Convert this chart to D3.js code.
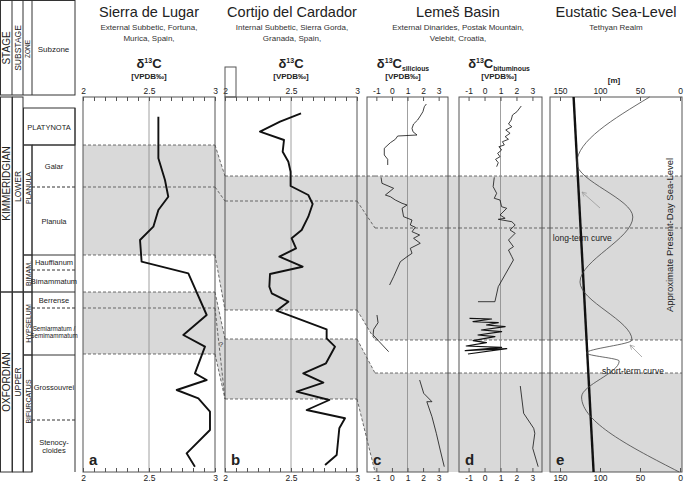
<!DOCTYPE html>
<html>
<head>
<meta charset="utf-8">
<script src="https://cdn.jsdelivr.net/npm/d3@7"></script>
<style>
  body { margin: 0; background: #fff; }
  svg { font-family: "Liberation Sans", Arial, sans-serif; }
</style>
</head>
<body>
<script>
// ---------- data (vertical values = relative stratigraphic position, 0 = top, 375 = base) ----------
var levelDomain = [0, 375];

var stages = [
  { name: "KIMMERIDGIAN", from: 0, to: 195 },
  { name: "OXFORDIAN", from: 195, to: 375 }
];
var substages = [
  { name: "LOWER", from: 0, to: 195 },
  { name: "UPPER", from: 195, to: 375 }
];
var zones = [
  { name: "PLATYNOTA", from: 11, to: 48, span: true },
  { name: "PLANULA", from: 48, to: 158 },
  { name: "BIMAM.", from: 158, to: 195 },
  { name: "HYPSELUM", from: 195, to: 258 },
  { name: "BIFURCATUS", from: 258, to: 375 }
];
var subzones = [
  { name: "Galar", from: 48, to: 90, zone: "PLANULA" },
  { name: "Planula", from: 90, to: 158, zone: "PLANULA" },
  { name: "Hauffianum", from: 158, to: 173, zone: "BIMAM." },
  { name: "Bimammatum", from: 173, to: 195, zone: "BIMAM." },
  { name: "Berrense", from: 195, to: 211, zone: "HYPSELUM" },
  { name: "Semiarmatum /|Semimammatum", from: 211, to: 258, zone: "HYPSELUM", small: true },
  { name: "Grossouvrei", from: 258, to: 323, zone: "BIFURCATUS" },
  { name: "Stenocy-|cloides", from: 323, to: 375, zone: "BIFURCATUS" }
];

// grey intervals and dashed correlation levels per section
var bandsA = [[48, 158], [195, 257]];
var dashesA = [48, 90, 158, 195, 211, 257];
var bandsB = [[79, 213], [242, 302]];
var dashesB = [79, 104, 213, 242, 302];
var bandsCDE = [[79, 243], [276, 375]];
var dashesCDE = [79, 131, 243, 276];

// correlation between neighbouring sections: [left level, right level]
var linkABFill = [[[48, 79], [158, 213]], [[195, 242], [257, 302]]];
var linkABLines = [[48, 79], [90, 104], [158, 213], [195, 242], [257, 302], [211, 302]];
var linkBCFill = [[[79, 79], [213, 243]], [[242, 276], [302, 375]]];
var linkBCLines = [[79, 79], [104, 131], [213, 243], [242, 276], [302, 375]];
var linkFlatFill = [[[79, 79], [243, 243]], [[276, 276], [375, 375]]];
var linkFlatLines = [[79, 79], [131, 131], [243, 243], [276, 276]];

// d13C Sierra de Lugar: [level, value]
var carbonA = [
  [19.7, 2.571], [61.3, 2.571], [83, 2.621], [99.7, 2.646], [113, 2.571], [129.7, 2.533],
  [143, 2.432], [164.7, 2.444], [176.3, 2.798], [218, 2.937], [238, 2.760], [249.7, 2.924],
  [276.3, 2.848], [283, 2.937], [293, 2.710], [301.3, 2.874], [314.7, 2.962], [333, 2.962],
  [356.3, 2.785], [369.7, 2.848]
];
// d13C Cortijo del Cardador
var carbonB = [
  [16.3, 2.576], [24.7, 2.417], [34.7, 2.265], [43, 2.447], [54.7, 2.437], [64.7, 2.480],
  [74.7, 2.497], [89, 2.497], [98, 2.631], [107, 2.664], [119.7, 2.631], [133, 2.581],
  [141.3, 2.505], [151.3, 2.538], [159.7, 2.412], [169.7, 2.588], [177, 2.341], [189.7, 2.336],
  [196.3, 2.354], [204.7, 2.480], [213.7, 2.391], [232.3, 2.770], [241.3, 2.770], [249.7, 2.833],
  [266.3, 2.765], [276.3, 2.593], [285.7, 2.745], [294.7, 2.543], [303, 2.790], [313, 2.619],
  [321.3, 2.909], [331.3, 2.866], [358, 2.846], [368, 2.758]
];
// d13C silicious, Lemes Basin (segments)
var carbonC = [
  [[7, 2.21], [9.7, 2.08], [14.7, 1.99], [19, 1.82], [23, 1.65], [27, 1.39], [31.3, 1.29],
   [34.7, 1.35], [38, 1.61], [39, 0.37], [42.3, 0.22], [45.7, -0.10], [51.3, -0.49], [58, -0.49],
   [62.3, -0.27], [68, -0.27]],
  [[80.3, -0.70], [86.3, -0.64], [91.3, 0.11], [98, -0.42], [99.7, -0.10], [103, 0.22],
   [106.3, 0.65], [108, 0.97], [111.3, 0.65], [119.7, 0.75], [123, 1.29], [128, 1.18],
   [130.3, 1.50], [134.7, 1.29], [138, 1.78], [141.3, 1.39], [146.3, 1.82], [151.3, 1.18],
   [156.3, 1.29], [159.7, 0.97], [164.7, 0.54], [179.7, 0.11], [188, -0.15]],
  [[218, -0.96], [225.7, -0.89], [232.3, -1.17], [238, -1.21], [254.7, -0.21]],
  [[283, 1.78], [296.3, 2.04], [304.7, 2.57], [304.7, 2.24], [319.7, 2.57], [336.3, 2.85],
   [353, 3.10], [369.7, 3.36]]
];
// d13C bituminous, Lemes Basin (segments)
var carbonD = [
  [[9, 2.30], [14.7, 2.03], [18, 1.75], [23, 1.67], [27, 1.50], [29.7, 1.71], [33, 1.33],
   [36.3, 1.60], [39.7, 1.29], [42.3, 1.50], [44.7, 1.12], [48, 1.24], [49.7, 0.90], [53, 1.07],
   [56.3, 0.82], [59.7, 0.97], [62.3, 0.69], [65.7, 0.86], [69.7, 0.76]],
  [[80.3, 0.61], [89.7, 0.54], [96.3, 0.76], [101.3, 0.61], [103, 0.97], [109.7, 1.07],
   [111.3, 1.39], [118, 0.97], [121.3, 1.29], [122.3, 0.86], [124.7, 1.71], [128, 1.92],
   [133, 1.60], [136.3, 1.92], [143, 1.50], [149.7, 1.81], [153, 1.50], [159.7, 1.71],
   [163, 1.81], [189.7, 0.86], [204.7, 0.65], [204.7, -0.41]],
  [[221.3, -0.94], [222, 0.44], [224.7, -0.72], [225.7, 0.86], [228, 0.12], [229.7, 1.29],
   [233, -0.20], [234.7, 1.07], [238, -0.41], [239.7, 0.65], [243.7, -0.72], [245.7, 0.12],
   [249, -1.15], [250.3, 1.07], [253.7, -1.21], [251.7, 1.39], [257, -1.04]],
  [[289, 2.24], [316.3, 2.45], [331.3, 3.08], [336.3, 3.15], [351.3, 3.02], [369.7, 3.36]]
];
// eustatic sea level [level, metres]
var seaShort = [[0, 38], [66, 129], [120, 59], [185, 125], [243, 60], [256, 117], [264, 76], [300, 123], [375, 1]];
var seaLong = [[0, 133], [375, 108]];

// axis ticks and labels
var ticksAB = d3.range(13).map(function (i) { return 2 + i / 12; });
var labelsAB = [2, 2.5, 3];
var ticksCD = [-1, 0, 1, 2, 3];
var labelsCD = [-1, 0, 1, 2, 3];
var ticksE = [150, 100, 50, 0];
var labelsE = [150, 100, 50, 0];

// ---------- layout ----------
var W = 685, H = 485;
var yTop = 97, yBottom = 472;
var cols = [0, 12, 23, 32, 75];
var grey = "#d9d9d9", dashCol = "#333", borderCol = "#555";
var labelShift = { KIMMERIDGIAN: -11, LOWER: -8, PLANULA: -12, BIFURCATUS: -12 };

var svg = d3.select("body").append("svg").attr("width", W).attr("height", H);
var y = d3.scaleLinear().domain(levelDomain).range([yTop, yBottom]);

var panels = [
  { id: "a", x0: 83, x1: 215, bx0: 83, x: d3.scaleLinear().domain([2, 3]).range([83, 215]),
    ticks: ticksAB, labels: labelsAB, grid: 2.5, bands: bandsA, dashes: dashesA, lines: [carbonA], w: 1.9 },
  { id: "b", x0: 225, x1: 357, bx0: 225, x: d3.scaleLinear().domain([2, 3]).range([225, 357]),
    ticks: ticksAB, labels: labelsAB, grid: 2.5, bands: bandsB, dashes: dashesB, lines: [carbonB], w: 1.9 },
  { id: "c", x0: 367, x1: 448, bx0: 375, x: d3.scaleLinear().domain([-1.6, 3.6]).range([367, 448]),
    ticks: ticksCD, labels: labelsCD, grid: 1, bands: bandsCDE, dashes: dashesCDE, lines: carbonC, w: 0.8 },
  { id: "d", x0: 459, x1: 542, bx0: 459, x: d3.scaleLinear().domain([-1.6, 3.6]).range([459, 542]),
    ticks: ticksCD, labels: labelsCD, grid: 1, bands: bandsCDE, dashes: dashesCDE, lines: carbonD, w: 0.8 },
  { id: "e", x0: 550, x1: 682, bx0: 550, x: d3.scaleLinear().domain([162.5, -2.5]).range([550, 682]),
    ticks: ticksE, labels: labelsE, grid: null, bands: bandsCDE, dashes: dashesCDE, lines: [], w: 0.8 }
];
var links = [
  { l: 0, r: 1, xr: 225, fill: linkABFill, lines: linkABLines },
  { l: 1, r: 2, xr: 375, fill: linkBCFill, lines: linkBCLines },
  { l: 2, r: 3, xr: 459, fill: linkFlatFill, lines: linkFlatLines },
  { l: 3, r: 4, xr: 550, fill: linkFlatFill, lines: linkFlatLines }
];

// ---------- grey bands and correlation links ----------
var gBands = svg.append("g");
panels.forEach(function (p) {
  gBands.selectAll(null).data(p.bands).enter().append("rect")
    .attr("x", p.bx0).attr("width", p.x1 - p.bx0)
    .attr("y", function (d) { return y(d[0]); })
    .attr("height", function (d) { return y(d[1]) - y(d[0]); })
    .attr("fill", grey);
});
links.forEach(function (k) {
  var xl = panels[k.l].x1, xr = k.xr;
  gBands.selectAll(null).data(k.fill).enter().append("path")
    .attr("d", function (d) {
      return "M" + xl + "," + y(d[0][0]) + "L" + xr + "," + y(d[0][1]) +
             "L" + xr + "," + y(d[1][1]) + "L" + xl + "," + y(d[1][0]) + "Z";
    })
    .attr("fill", grey);
});

var gDash = svg.append("g").attr("stroke", dashCol).attr("stroke-width", 0.7).attr("stroke-dasharray", "3,2");
panels.forEach(function (p) {
  gDash.selectAll(null).data(p.dashes).enter().append("line")
    .attr("x1", p.bx0).attr("x2", p.x1)
    .attr("y1", function (d) { return y(d); }).attr("y2", function (d) { return y(d); });
});
links.forEach(function (k) {
  var xl = panels[k.l].x1, xr = k.xr;
  gDash.selectAll(null).data(k.lines).enter().append("line")
    .attr("x1", xl).attr("x2", xr)
    .attr("y1", function (d) { return y(d[0]); }).attr("y2", function (d) { return y(d[1]); });
});
svg.append("text").attr("x", 221).attr("y", y(250)).attr("font-size", 8).attr("fill", "#333")
  .attr("text-anchor", "middle").text("?");

// ---------- panels ----------
panels.forEach(function (p) {
  var g = svg.append("g");
  if (p.grid !== null) {
    g.append("line").attr("x1", p.x(p.grid)).attr("x2", p.x(p.grid))
      .attr("y1", yTop).attr("y2", yBottom).attr("stroke", "#888").attr("stroke-width", 0.8);
  }
  var line = d3.line().x(function (d) { return p.x(d[1]); }).y(function (d) { return y(d[0]); });
  g.selectAll(null).data(p.lines).enter().append("path")
    .attr("d", line).attr("fill", "none").attr("stroke", "#111")
    .attr("stroke-width", function (d, i) { return (p.id === "d" && i === 2) ? 1.2 : p.w; })
    .attr("stroke-linejoin", "round");

  g.append("rect").attr("x", p.x0).attr("y", yTop).attr("width", p.x1 - p.x0).attr("height", yBottom - yTop)
    .attr("fill", "none").attr("stroke", borderCol).attr("stroke-width", 1);

  var fmt = function (d) { return String(d); };
  [[d3.axisBottom, yTop, 4, "marks"], [d3.axisTop, yBottom, 4, "marks"],
   [d3.axisTop, yTop, 0, "labels"], [d3.axisBottom, yBottom, 0, "labels"]].forEach(function (a) {
    var ax = a[0](p.x).tickSize(a[2]).tickPadding(3);
    if (a[3] === "marks") ax.tickValues(p.ticks).tickFormat("");
    else ax.tickValues(p.labels).tickFormat(fmt);
    var ga = g.append("g").attr("transform", "translate(0," + a[1] + ")").call(ax);
    ga.select(".domain").remove();
    ga.selectAll("line").attr("stroke", borderCol);
    ga.selectAll("text").attr("font-size", 8.5).attr("fill", "#222")
      .attr("font-family", "Liberation Sans, Arial, sans-serif");
  });

  g.append("text").attr("x", p.x0 + 6).attr("y", 465).attr("font-size", 15)
    .attr("font-weight", "bold").attr("fill", "#222").text(p.id);
});

// sea-level curves
var pe = panels[4];
var seaLine = d3.line().x(function (d) { return pe.x(d[1]); }).y(function (d) { return y(d[0]); });
svg.append("path").attr("d", d3.line().x(function (d) { return pe.x(d[1]); }).y(function (d) { return y(d[0]); })(seaLong))
  .attr("fill", "none").attr("stroke", "#111").attr("stroke-width", 2.4);
svg.append("path").attr("d", seaLine.curve(d3.curveMonotoneY)(seaShort))
  .attr("fill", "none").attr("stroke", "#444").attr("stroke-width", 0.8);

var defs = svg.append("defs");
defs.append("marker").attr("id", "arr").attr("viewBox", "0 0 10 10").attr("refX", 9).attr("refY", 5)
  .attr("markerWidth", 7).attr("markerHeight", 7).attr("orient", "auto")
  .append("path").attr("d", "M1,1L9,5L1,9").attr("fill", "none").attr("stroke", "#999").attr("stroke-width", 1.2);
[[111, 100, 95, 122.5], [260, 47.5, 248, 62.5]].forEach(function (a) {
  svg.append("line").attr("x1", pe.x(a[1])).attr("y1", y(a[0])).attr("x2", pe.x(a[3])).attr("y2", y(a[2]))
    .attr("stroke", "#999").attr("stroke-width", 0.8).attr("marker-end", "url(#arr)");
});
svg.append("text").attr("x", pe.x(159)).attr("y", y(144)).attr("font-size", 8.5).attr("fill", "#222").text("long-term curve");
svg.append("text").attr("x", pe.x(97.5)).attr("y", y(277)).attr("font-size", 8.5).attr("fill", "#222").text("short-term curve");
svg.append("text").attr("transform", "translate(673," + y(138) + ") rotate(-90)")
  .attr("text-anchor", "middle").attr("font-size", 9.5).attr("fill", "#222")
  .text("Approximate Present-Day Sea-Level");

// ---------- titles ----------
function title(x, t, s1, s2) {
  svg.append("text").attr("x", x).attr("y", 17).attr("text-anchor", "middle").attr("font-size", 14.5).attr("fill", "#222").text(t);
  svg.append("text").attr("x", x).attr("y", 30).attr("text-anchor", "middle").attr("font-size", 8).attr("fill", "#333").text(s1);
  if (s2) svg.append("text").attr("x", x).attr("y", 41).attr("text-anchor", "middle").attr("font-size", 8).attr("fill", "#333").text(s2);
}
title(149, "Sierra de Lugar", "External Subbetic, Fortuna,", "Murica, Spain,");
title(292, "Cortijo del Cardador", "Internal Subbetic, Sierra Gorda,", "Granada, Spain,");
title(458, "Lemeš Basin", "External Dinarides, Postak Mountain,", "Velebit, Croatia,");
title(616, "Eustatic Sea-Level", "Tethyan Realm", null);

function delta(x, sub) {
  var t = svg.append("text").attr("x", x).attr("y", 68).attr("text-anchor", "middle")
    .attr("font-weight", "bold").attr("font-size", 13).attr("fill", "#222");
  t.append("tspan").text("δ");
  t.append("tspan").attr("font-size", 7).attr("dy", -5.5).text("13");
  t.append("tspan").attr("dy", 5.5).text("C");
  if (sub) t.append("tspan").attr("font-size", 6.8).attr("dy", 3).text(sub);
  svg.append("text").attr("x", x).attr("y", 79).attr("text-anchor", "middle")
    .attr("font-weight", "bold").attr("font-size", 8).attr("fill", "#222").text("[VPDB‰]");
}
delta(149, null);
delta(291, null);
delta(403, "silicious");
delta(499, "bituminous");
svg.append("text").attr("x", 614).attr("y", 83).attr("text-anchor", "middle")
  .attr("font-weight", "bold").attr("font-size", 8).attr("fill", "#222").text("[m]");
svg.append("rect").attr("x", 225).attr("y", 67).attr("width", 11).attr("height", 30)
  .attr("fill", "none").attr("stroke", borderCol).attr("stroke-width", 1);

// ---------- stratigraphic table ----------
var gt = svg.append("g").attr("fill", "none").attr("stroke", "#333").attr("stroke-width", 1);
gt.append("rect").attr("x", 0.5).attr("y", 0.5).attr("width", cols[4] - 0.5).attr("height", 94.5);
[1, 2, 3].forEach(function (i) {
  gt.append("line").attr("x1", cols[i]).attr("x2", cols[i]).attr("y1", 0.5).attr("y2", 95);
});
function vtext(x, yy, txt, size) {
  svg.append("text").attr("transform", "translate(" + x + "," + yy + ") rotate(-90)")
    .attr("text-anchor", "middle").attr("dominant-baseline", "central")
    .attr("font-size", size).attr("fill", "#222").text(txt);
}
vtext(6.5, 48, "STAGE", 10);
vtext(17.5, 48, "SUBSTAGE", 8.5);
vtext(27.8, 49, "ZONE", 6.5);
svg.append("text").attr("x", 53.5).attr("y", 52).attr("text-anchor", "middle").attr("font-size", 8).attr("fill", "#222").text("Subzone");

function cells(data, c0, c1, size) {
  data.forEach(function (d) {
    var x1 = d.span ? cols[4] : cols[c1];
    gt.append("rect").attr("x", cols[c0] + 0.5).attr("y", y(d.from)).attr("width", x1 - cols[c0] - 0.5)
      .attr("height", y(d.to) - y(d.from));
    if (d.span) {
      svg.append("text").attr("x", (cols[c0] + x1) / 2).attr("y", (y(d.from) + y(d.to)) / 2 + 3)
        .attr("text-anchor", "middle").attr("font-size", 7.5).attr("fill", "#222").text(d.name);
    } else {
      vtext((cols[c0] + cols[c1]) / 2 + 0.5, (y(d.from) + y(d.to)) / 2 + (labelShift[d.name] || 0), d.name, size);
    }
  });
}
cells(stages, 0, 1, 10);
cells(substages, 1, 2, 8.5);
cells(zones, 2, 3, 7);

subzones.forEach(function (d, i) {
  var prev = subzones[i - 1];
  var sameZone = prev && prev.zone === d.zone;
  gt.append("line").attr("x1", cols[3]).attr("x2", cols[4]).attr("y1", y(d.from)).attr("y2", y(d.from))
    .attr("stroke-dasharray", sameZone ? "3,2" : null);
  var parts = d.name.split("|");
  var fs = d.small ? 6.3 : 7.5;
  var cy = (y(d.from) + y(d.to)) / 2 - (parts.length - 1) * fs * 0.5 + 2.6;
  parts.forEach(function (s, j) {
    svg.append("text").attr("x", (cols[3] + cols[4]) / 2 + 0.5).attr("y", cy + j * fs * 1.05)
      .attr("text-anchor", "middle").attr("font-size", fs).attr("fill", "#222").text(s);
  });
});
gt.append("line").attr("x1", cols[3]).attr("x2", cols[3]).attr("y1", y(48)).attr("y2", y(375));
gt.append("line").attr("x1", cols[4]).attr("x2", cols[4]).attr("y1", y(11)).attr("y2", y(375));
</script>
</body>
</html>
